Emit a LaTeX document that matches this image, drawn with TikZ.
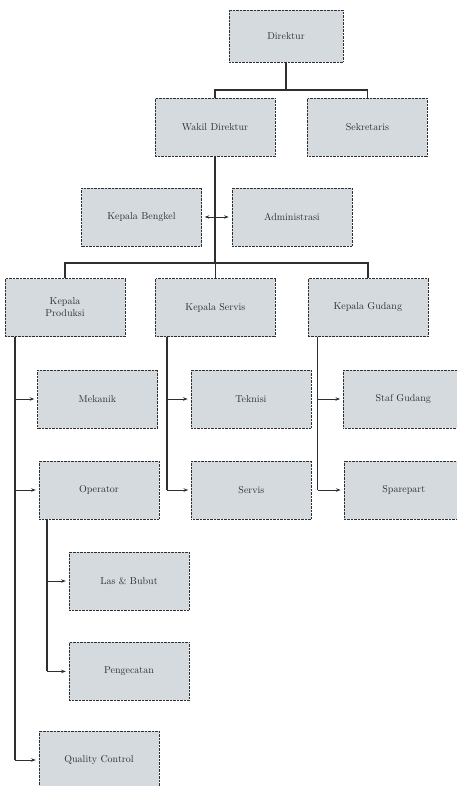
\documentclass[tikz,border=0pt]{standalone}
\usepackage{tikz}
\usepackage{xcolor}
\usetikzlibrary{arrows.meta, positioning, calc}
\definecolor{boxfill}{RGB}{212,218,222}
\definecolor{ink}{RGB}{45,47,50}

\begin{document}
\begin{tikzpicture}[
  x=1pt, y=-1pt,
  node distance=32pt and 32pt,
  every node/.style={font=\normalsize, text=ink},
  orgbox/.style={rectangle, draw=ink, densely dotted, fill=boxfill,
                 minimum width=120pt, minimum height=58pt, align=center},
  link/.style={draw=ink, line width=1.7pt},
  arr/.style={-{Stealth[scale=0.7]}, thick, draw=ink, shorten >=3pt},
]
\useasboundingbox (0,0) rectangle (456,786);

% top of the chart
\node[orgbox, minimum width=114pt, minimum height=52pt] at (286,36) (dir) {Direktur};
\node[orgbox] at (215,127.5) (wadir) {Wakil Direktur};
\node[orgbox, right=32pt of wadir] (sek) {Sekretaris};
\node[orgbox] at (141.5,217) (kabeng) {Kepala Bengkel};
\node[orgbox, right=30pt of kabeng] (adm) {Administrasi};

% three sections
\node[orgbox] at (65,307.5) (prod) {Kepala\\Produksi};
\node[orgbox, right=30pt of prod] (serv) {Kepala Servis};
\node[orgbox, right=32pt of serv] (gud) {Kepala Gudang};

\node[orgbox] at (97.5,399) (mek) {Mekanik};
\node[orgbox, right=33pt of mek] (tek) {Teknisi};
\node[orgbox, right=32pt of tek] (staf) {Staf Gudang};

\node[orgbox] at (99,490) (opr) {Operator};
\node[orgbox, right=32pt of opr] (servis) {Servis};
\node[orgbox, right=32pt of servis] (spare) {Sparepart};

\node[orgbox] at (129,581) (las) {Las \& Bubut};
\node[orgbox, below=32pt of las] (cat) {Pengecatan};
\node[orgbox] at (99,760) (qc) {Quality Control};

\coordinate (b1) at (0,90);
\coordinate (b2) at (0,263);

\draw[link] (dir.south) -- (dir.south |- b1);
\draw[link] (wadir.north) |- (dir.south |- b1) -| (sek.north);
\draw[link] (wadir.south) -- (wadir.south |- b2);
\draw[link] (prod.north) |- (serv.north |- b2) -| (gud.north);
\draw[link] (serv.north) -- (serv.north |- b2);
\draw[arr] (wadir.south |- kabeng.east) -- (kabeng.east);
\draw[arr] (wadir.south |- adm.west) -- (adm.west);

% branches under each section
\draw[link] ([xshift=10pt]prod.south west) coordinate (pl) -- (pl |- qc.west);
\foreach \c in {mek, opr, qc}
  \draw[arr] (pl |- \c.west) -- (\c.west);
\draw[link] ([xshift=12pt]serv.south west) coordinate (sl) -- (sl |- servis.west);
\foreach \c in {tek, servis}
  \draw[arr] (sl |- \c.west) -- (\c.west);
\draw[link] ([xshift=10pt]gud.south west) coordinate (gl) -- (gl |- spare.west);
\foreach \c in {staf, spare}
  \draw[arr] (gl |- \c.west) -- (\c.west);
\draw[link] ([xshift=8pt]opr.south west) coordinate (ol) -- (ol |- cat.west);
\foreach \c in {las, cat}
  \draw[arr] (ol |- \c.west) -- (\c.west);
\end{tikzpicture}
\end{document}
